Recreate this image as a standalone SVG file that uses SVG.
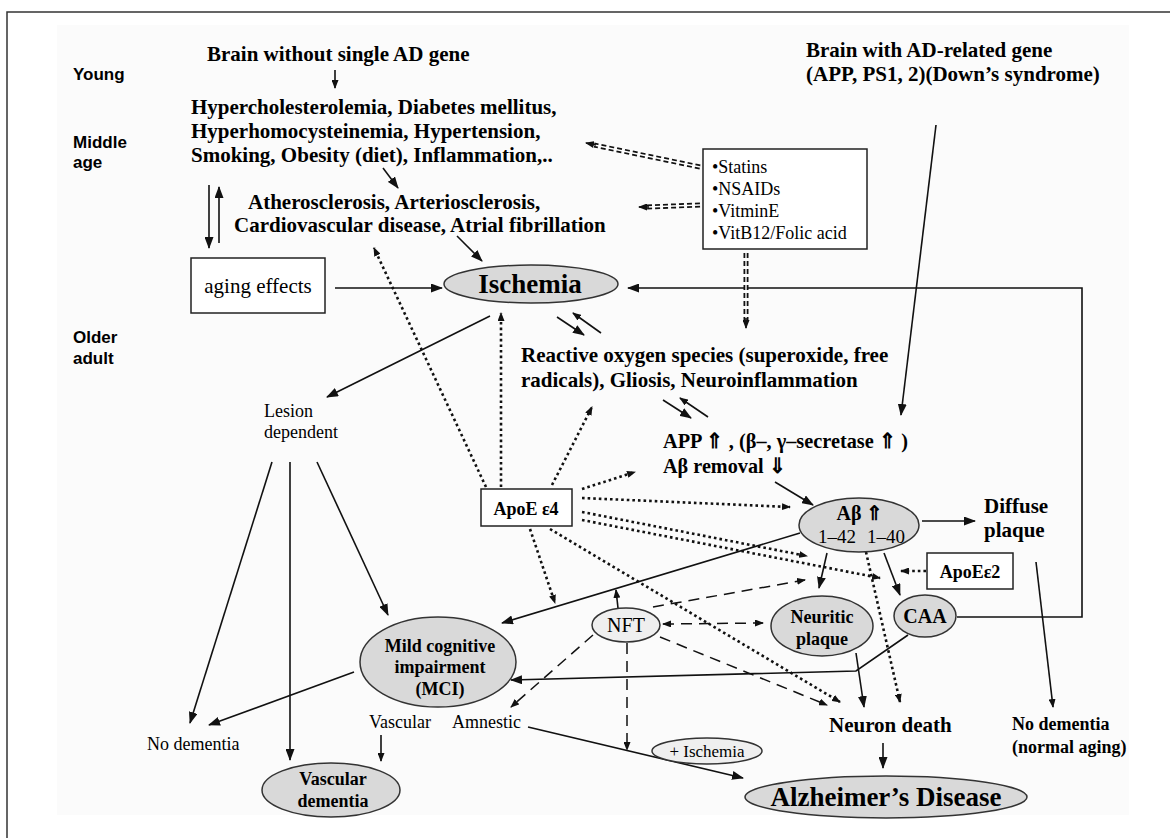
<svg xmlns="http://www.w3.org/2000/svg" width="1170" height="838" viewBox="0 0 1170 838">
<defs>
<style>
.tb{font-family:"Liberation Serif","Times New Roman",serif;font-weight:bold;font-size:21px;fill:#000}
.tr{font-family:"Liberation Serif","Times New Roman",serif;font-size:18px;fill:#000}
.lab{font-family:"Liberation Sans",Arial,sans-serif;font-weight:bold;font-size:17px;fill:#000}
.ell{fill:#d9d9d9;stroke:#333;stroke-width:1.5}
.box{fill:#fff;stroke:#222;stroke-width:1.5}
.s{fill:none;stroke:#111;stroke-width:1.6}
.dot{fill:none;stroke:#111;stroke-width:2.6;stroke-dasharray:2.6 3}
.dash{fill:none;stroke:#111;stroke-width:1.5;stroke-dasharray:11 7}
.dd{fill:none;stroke:#111;stroke-width:5;stroke-dasharray:5 3}
.ddw{fill:none;stroke:#fff;stroke-width:1.4}
.mid{text-anchor:middle}
</style>
<marker id="a" markerUnits="userSpaceOnUse" markerWidth="12" markerHeight="9" refX="11" refY="4.5" orient="auto"><path d="M0,0 L12,4.5 L0,9 z" fill="#111"/></marker>
<marker id="as" markerUnits="userSpaceOnUse" markerWidth="9" markerHeight="7" refX="8" refY="3.5" orient="auto"><path d="M0,0 L9,3.5 L0,7 z" fill="#111"/></marker>
<marker id="asr" markerUnits="userSpaceOnUse" markerWidth="9" markerHeight="7" refX="1" refY="3.5" orient="auto"><path d="M9,0 L0,3.5 L9,7 z" fill="#111"/></marker>
</defs>
<rect width="1170" height="838" fill="#fff"/>
<rect x="57" y="25" width="1072" height="790" fill="#fbfbfb"/>
<path d="M7,838 V12 H1170" fill="none" stroke="#333" stroke-width="1.5"/>

<g id="stage-labels">
<text class="lab" x="73" y="80">Young</text>
<text class="lab" x="73" y="148">Middle</text>
<text class="lab" x="73" y="168">age</text>
<text class="lab" x="73" y="343">Older</text>
<text class="lab" x="73" y="364">adult</text>
</g>

<g id="connectors">
<line class="s" x1="335" y1="70" x2="335" y2="88" marker-end="url(#as)"/>
<line class="s" x1="383" y1="168" x2="398" y2="188" marker-end="url(#a)"/>
<line class="s" x1="457" y1="236" x2="482" y2="261" marker-end="url(#a)"/>
<line class="s" x1="209" y1="185" x2="209" y2="248" marker-end="url(#a)"/>
<line class="s" x1="219" y1="243" x2="219" y2="187" marker-end="url(#a)"/>
<line class="s" x1="335" y1="288" x2="442" y2="288" marker-end="url(#a)"/>
<polyline class="s" points="957,617 1082,617 1082,288 628,288" marker-end="url(#a)"/>
<line class="s" x1="936" y1="125" x2="901" y2="415" marker-end="url(#a)"/>
<line class="s" x1="557" y1="317" x2="584" y2="335" marker-end="url(#a)"/>
<line class="s" x1="601" y1="333" x2="573" y2="313" marker-end="url(#as)"/>
<line class="s" x1="663" y1="400" x2="691" y2="418" marker-end="url(#a)"/>
<line class="s" x1="708" y1="417" x2="680" y2="398" marker-end="url(#as)"/>
<line class="s" x1="775" y1="482" x2="813" y2="505" marker-end="url(#a)"/>
<line class="s" x1="922" y1="521" x2="975" y2="521" marker-end="url(#a)"/>
<line class="s" x1="827" y1="553" x2="819" y2="588" marker-end="url(#a)"/>
<line class="s" x1="884" y1="553" x2="900" y2="595" marker-end="url(#a)"/>
<line class="s" x1="1036" y1="562" x2="1053" y2="707" marker-end="url(#as)"/>
<line class="s" x1="856" y1="653" x2="864" y2="707" marker-end="url(#a)"/>
<polyline class="s" points="908,635 856,671 511,680" marker-end="url(#a)"/>
<line class="s" x1="883" y1="743" x2="883" y2="768" marker-end="url(#a)"/>
<line class="s" x1="800" y1="533" x2="502" y2="623" marker-end="url(#a)"/>
<line class="s" x1="618" y1="608" x2="616" y2="590" marker-end="url(#as)"/>
<line class="s" x1="528" y1="727" x2="743" y2="778" marker-end="url(#a)"/>
<line class="s" x1="490" y1="316" x2="327" y2="397" marker-end="url(#a)"/>
<line class="s" x1="272" y1="462" x2="190" y2="723" marker-end="url(#a)"/>
<line class="s" x1="290" y1="462" x2="290" y2="760" marker-end="url(#a)"/>
<line class="s" x1="317" y1="462" x2="388" y2="615" marker-end="url(#a)"/>
<line class="s" x1="354" y1="672" x2="209" y2="725" marker-end="url(#a)"/>
<line class="s" x1="381" y1="735" x2="381" y2="761" marker-end="url(#as)"/>
<line class="dd" x1="700" y1="167" x2="594" y2="145"/>
<line class="ddw" x1="700" y1="167" x2="594" y2="145"/>
<line class="s" x1="596" y1="145" x2="586" y2="143" marker-end="url(#as)"/>
<line class="dd" x1="700" y1="205" x2="647" y2="207"/>
<line class="ddw" x1="700" y1="205" x2="647" y2="207"/>
<line class="s" x1="649" y1="207" x2="639" y2="207" marker-end="url(#as)"/>
<line class="dd" x1="746" y1="253" x2="746" y2="320"/>
<line class="ddw" x1="746" y1="253" x2="746" y2="320"/>
<line class="s" x1="746" y1="318" x2="746" y2="328" marker-end="url(#as)"/>
<line class="dot" x1="486" y1="487" x2="374" y2="248" marker-end="url(#as)"/>
<line class="dot" x1="501" y1="487" x2="501" y2="313" marker-end="url(#as)"/>
<line class="dot" x1="552" y1="485" x2="592" y2="407" marker-end="url(#as)"/>
<line class="dot" x1="582" y1="489" x2="635" y2="472" marker-end="url(#as)"/>
<line class="dot" x1="582" y1="498" x2="790" y2="507" marker-end="url(#as)"/>
<line class="dot" x1="582" y1="512" x2="807" y2="556" marker-end="url(#as)"/>
<line class="dot" x1="582" y1="520" x2="880" y2="578" marker-end="url(#as)"/>
<line class="dot" x1="530" y1="529" x2="555" y2="603" marker-end="url(#as)"/>
<line class="dot" x1="550" y1="529" x2="840" y2="702" marker-end="url(#as)"/>
<line class="dot" x1="866" y1="552" x2="900" y2="702" marker-end="url(#as)"/>
<line class="dot" x1="926" y1="571" x2="901" y2="571" marker-end="url(#as)"/>
<line class="dash" x1="653" y1="607" x2="805" y2="580" marker-end="url(#as)"/>
<line class="dash" x1="663" y1="624" x2="763" y2="623" marker-start="url(#asr)" marker-end="url(#as)"/>
<line class="dash" x1="660" y1="637" x2="827" y2="705" marker-end="url(#as)"/>
<line class="dash" x1="593" y1="635" x2="511" y2="707" marker-end="url(#as)"/>
<line class="dash" x1="627" y1="643" x2="627" y2="750" marker-end="url(#as)"/>
</g>

<g id="brain-without"><text class="tb" x="207" y="61">Brain without single AD gene</text></g>
<g id="risk-factors">
<text class="tb" x="191" y="114">Hypercholesterolemia, Diabetes mellitus,</text>
<text class="tb" x="191" y="138">Hyperhomocysteinemia, Hypertension,</text>
<text class="tb" x="191" y="162">Smoking, Obesity (diet), Inflammation,..</text>
</g>
<g id="atherosclerosis">
<text class="tb" x="248" y="209">Atherosclerosis, Arteriosclerosis,</text>
<text class="tb" x="234" y="232">Cardiovascular disease, Atrial fibrillation</text>
</g>
<g id="brain-with">
<text class="tb" x="806" y="57">Brain with AD-related gene</text>
<text class="tb" x="806" y="81">(APP, PS1, 2)(Down’s syndrome)</text>
</g>
<g id="drugs">
<rect class="box" x="703" y="149" width="164" height="100"/>
<text class="tr" x="712" y="173">•Statins</text>
<text class="tr" x="712" y="195">•NSAIDs</text>
<text class="tr" x="712" y="217">•VitminE</text>
<text class="tr" x="712" y="239">•VitB12/Folic acid</text>
</g>
<g id="aging">
<rect class="box" x="191" y="258" width="134" height="55"/>
<text class="tr mid" x="258" y="293" style="font-size:21px">aging effects</text>
</g>
<g id="ischemia">
<ellipse class="ell" cx="531" cy="284" rx="87" ry="19"/>
<text class="tb mid" x="530" y="293" style="font-size:27px">Ischemia</text>
</g>
<g id="ros">
<text class="tb" x="521" y="362">Reactive oxygen species (superoxide, free</text>
<text class="tb" x="521" y="387">radicals), Gliosis, Neuroinflammation</text>
</g>
<g id="app">
<text class="tb" x="663" y="448" textLength="245" lengthAdjust="spacingAndGlyphs">APP ⇑ , (β–, γ–secretase ⇑ )</text>
<text class="tb" x="663" y="473" textLength="123" lengthAdjust="spacingAndGlyphs">Aβ removal ⇓</text>
</g>
<g id="lesion">
<text class="tr" x="264" y="417">Lesion</text>
<text class="tr" x="264" y="438">dependent</text>
</g>
<g id="apoe4">
<rect class="box" x="481" y="489" width="91" height="37"/>
<text class="tb mid" x="526" y="515" style="font-size:18px">ApoE ε4</text>
</g>
<g id="abeta">
<ellipse class="ell" cx="859" cy="525" rx="60" ry="27"/>
<text class="tb mid" x="860" y="520" style="font-size:20px">Aβ ⇑</text>
<text class="tr" x="818" y="543" style="font-size:19px">1–42</text>
<text class="tr" x="867" y="543" style="font-size:19px">1–40</text>
</g>
<g id="diffuse">
<text class="tb" x="984" y="513">Diffuse</text>
<text class="tb" x="984" y="537">plaque</text>
</g>
<g id="apoe2">
<rect class="box" x="927" y="553" width="86" height="36"/>
<text class="tb mid" x="970" y="578" style="font-size:18px">ApoEε2</text>
</g>
<g id="caa">
<ellipse class="ell" cx="925" cy="616" rx="31" ry="21"/>
<text class="tb mid" x="925" y="623" style="font-size:20px">CAA</text>
</g>
<g id="neuritic">
<ellipse class="ell" cx="822" cy="626" rx="51" ry="30"/>
<text class="tb mid" x="822" y="623" style="font-size:18px">Neuritic</text>
<text class="tb mid" x="822" y="645" style="font-size:18px">plaque</text>
</g>
<g id="nft">
<ellipse class="ell" cx="626" cy="625" rx="34" ry="17" style="fill:#efefef"/>
<text class="tr mid" x="626" y="632" style="font-size:20px">NFT</text>
</g>
<g id="mci">
<ellipse class="ell" cx="438" cy="662" rx="78" ry="45"/>
<text class="tb mid" x="440" y="652" style="font-size:18px">Mild cognitive</text>
<text class="tb mid" x="440" y="673" style="font-size:18px">impairment</text>
<text class="tb mid" x="440" y="695" style="font-size:18px">(MCI)</text>
</g>
<g id="no-dementia"><text class="tr" x="147" y="750">No dementia</text></g>
<g id="vascular-label"><text class="tr" x="369" y="728">Vascular</text></g>
<g id="amnestic-label"><text class="tr" x="452" y="728">Amnestic</text></g>
<g id="vascular-dementia">
<ellipse class="ell" cx="331" cy="790" rx="69" ry="27"/>
<text class="tb mid" x="333" y="785" style="font-size:18px">Vascular</text>
<text class="tb mid" x="333" y="807" style="font-size:18px">dementia</text>
</g>
<g id="plus-ischemia">
<ellipse class="ell" cx="707" cy="751" rx="55" ry="13" style="fill:#efefef"/>
<text class="tr mid" x="707" y="757" style="font-size:17px">+ Ischemia</text>
</g>
<g id="neuron-death"><text class="tb" x="829" y="732">Neuron death</text></g>
<g id="normal-aging">
<text class="tb" x="1012" y="730" style="font-size:18px">No dementia</text>
<text class="tb" x="1012" y="753" style="font-size:18px">(normal aging)</text>
</g>
<g id="alzheimers">
<ellipse class="ell" cx="886" cy="797" rx="141" ry="21"/>
<text class="tb mid" x="886" y="806" style="font-size:27px">Alzheimer’s Disease</text>
</g>
</svg>
